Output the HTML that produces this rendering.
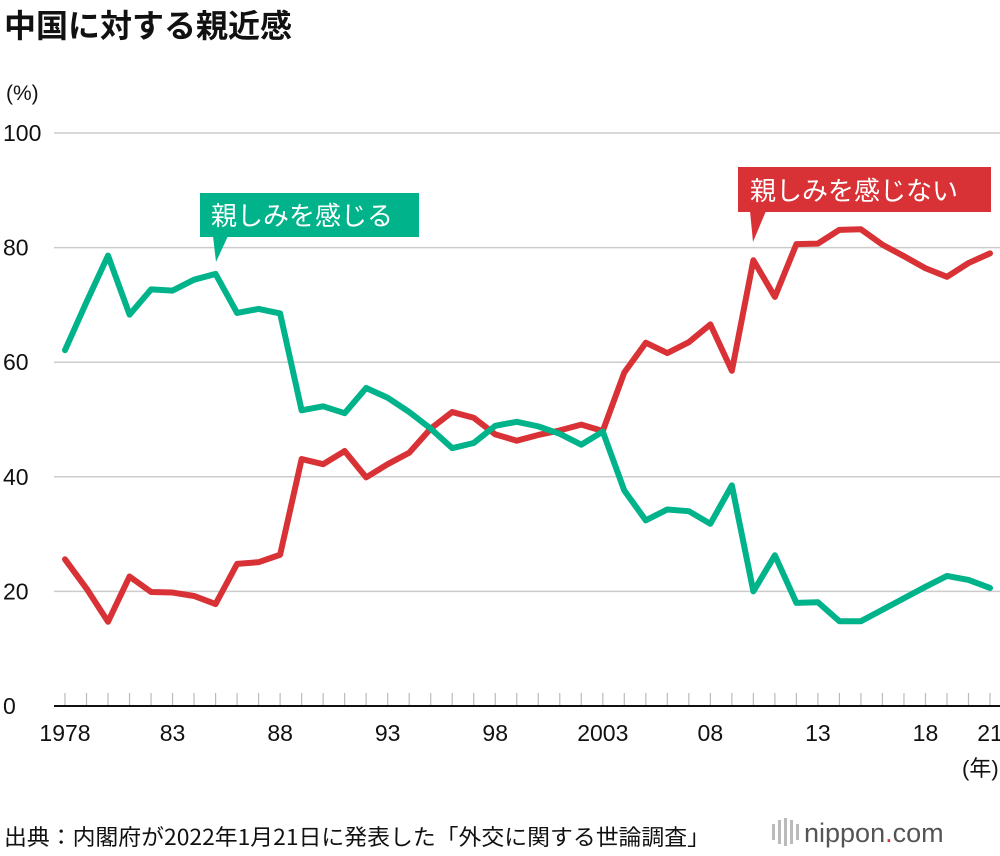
<!DOCTYPE html>
<html><head><meta charset="utf-8">
<style>
body{margin:0;background:#fff;width:1000px;height:856px;overflow:hidden;font-family:"Liberation Sans","Noto Sans CJK JP",sans-serif;}
svg{position:absolute;left:0;top:0}
</style></head>
<body>
<svg width="1000" height="856" id="chart">
<text x="4" y="37" font-size="32" font-weight="bold" fill="#111" font-family="Liberation Sans,Noto Sans CJK JP,sans-serif">中国に対する親近感</text>
<text x="6" y="100" font-size="21" fill="#111">(%)</text>
<g id="grid"></g>
<g id="ticks"></g>
<g id="series"></g>
<g>
<rect x="200" y="193" width="219" height="44" fill="#00b38a"/>
<polygon points="213,236 228,236 216,262" fill="#00b38a"/>
<text x="211" y="225" font-size="26" fill="#fff" font-family="Noto Sans CJK JP,sans-serif">親しみを感じる</text>
</g>
<g>
<rect x="738" y="167" width="253" height="45" fill="#d93236"/>
<polygon points="750,211 766,211 753,242" fill="#d93236"/>
<text x="750" y="200" font-size="26" fill="#fff" font-family="Noto Sans CJK JP,sans-serif">親しみを感じない</text>
</g>
<text x="962" y="776" font-size="22" fill="#111">(年)</text>
<text x="4" y="845" font-size="22" fill="#111" textLength="706" lengthAdjust="spacingAndGlyphs" font-family="Noto Sans CJK JP,sans-serif">出典：内閣府が2022年1月21日に発表した「外交に関する世論調査」</text>
<g>
<g fill="#bbb"><rect x="772" y="824" width="3" height="16"/><rect x="778" y="820" width="3" height="24"/><rect x="784" y="818" width="3" height="28"/><rect x="790" y="820" width="3" height="24"/><rect x="796" y="824" width="3" height="16"/></g>
<text x="804" y="842" font-size="27" fill="#555">nippon<tspan fill="#d93236">.</tspan>com</text>
</g>
</svg>
<script>
const years=[];for(let y=1978;y<=2021;y++)years.push(y);
const affinity=[62.1,70.5,78.6,68.3,72.7,72.5,74.4,75.4,68.6,69.3,68.5,51.6,52.3,51.1,55.5,53.8,51.3,48.4,45.0,45.9,48.9,49.6,48.8,47.5,45.6,47.9,37.6,32.4,34.3,34.0,31.8,38.5,20.0,26.3,18.0,18.1,14.8,14.8,16.8,18.8,20.8,22.7,22.0,20.6];
const noAffinity=[25.6,20.5,14.7,22.6,19.9,19.8,19.2,17.8,24.8,25.1,26.4,43.1,42.2,44.5,39.9,42.2,44.2,48.4,51.3,50.3,47.4,46.3,47.3,48.1,49.1,48.0,58.2,63.4,61.6,63.5,66.6,58.5,77.8,71.4,80.6,80.7,83.1,83.2,80.5,78.5,76.4,74.9,77.3,79.0];
const yTicks=[0,20,40,60,80,100];
const xLabelYears=[1978,1983,1988,1993,1998,2003,2008,2013,2018,2021];
const xLabels=["1978","83","88","93","98","2003","08","13","18","21"];
const NS="http://www.w3.org/2000/svg";
const X=y=>65+(y-1978)*(990-65)/43;
const Y=v=>706-v*5.73;
function mk(tag,attrs,parent){const e=document.createElementNS(NS,tag);for(const k in attrs)e.setAttribute(k,attrs[k]);parent.appendChild(e);return e;}
const grid=document.getElementById('grid'),ticks=document.getElementById('ticks'),series=document.getElementById('series');
yTicks.forEach(v=>{
  const l=mk('line',{x1:54,x2:1000,y1:Y(v),y2:Y(v),stroke:v===0?'#111':'#ccc','stroke-width':v===0?2:1.5},grid);
  
  
  const t=mk('text',{x:3,y:Y(v)+8,'font-size':23,fill:'#111'},grid);t.textContent=v;
  
  
});
years.forEach(yr=>{
  const l=mk('line',{x1:X(yr),x2:X(yr),y1:693,y2:705,stroke:'#bbb','stroke-width':1.2},ticks);
  
  
});
xLabelYears.forEach((yr,i)=>{
  const t=mk('text',{x:X(yr),y:741,'font-size':23,fill:'#111','text-anchor':'middle'},ticks);
  t.textContent=xLabels[i];
  
  
});
function line(vals,color,name){
  const p=mk('polyline',{points:vals.map((v,i)=>X(years[i])+','+Y(v)).join(' '),fill:'none',stroke:color,'stroke-width':6,'stroke-linejoin':'round','stroke-linecap':'round'},series);
  
  
}
line(noAffinity,'#d93236','line-no-affinity');
line(affinity,'#00b38a','line-affinity');
</script>
</body></html>
